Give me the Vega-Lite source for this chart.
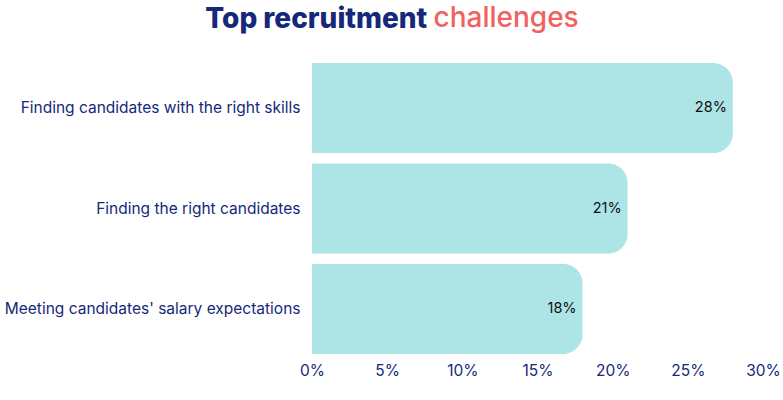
{
  "$schema": "https://vega.github.io/schema/vega-lite/v6.json",
  "autosize": {"type": "fit", "contains": "padding"},
  "width": 783,
  "height": 400,
  "padding": {"left": 4, "right": 2, "top": 4, "bottom": 21},
  "background": "white",
  "title": {
    "text": "Top recruitment",
    "anchor": "start",
    "frame": "bounds",
    "dx": 201,
    "dy": 30,
    "fontSize": 28,
    "fontWeight": 800,
    "font": "Inter",
    "color": "#15287a",
    "offset": 0
  },
  "config": {
    "view": {"stroke": null},
    "font": "Inter"
  },
  "data": {
    "values": [
      {"challenge": "Finding candidates with the right skills", "share": 0.28},
      {"challenge": "Finding the right candidates", "share": 0.21},
      {"challenge": "Meeting candidates' salary expectations", "share": 0.18}
    ]
  },
  "encoding": {
    "y": {
      "field": "challenge",
      "type": "nominal",
      "sort": null,
      "scale": {"paddingInner": 0.1, "paddingOuter": 0.05},
      "axis": {
        "title": "challenges",
        "titleAngle": 0,
        "titleAlign": "left",
        "titleBaseline": "middle",
        "titleX": 121,
        "titleY": -40,
        "titleFontSize": 28,
        "titleFontWeight": 500,
        "titleFont": "Inter",
        "titleColor": "#f0625f",
        "domain": false,
        "ticks": false,
        "labelPadding": 12,
        "labelFontSize": 15.5,
        "labelColor": "#15287a",
        "labelLimit": 400
      }
    },
    "x": {
      "field": "share",
      "type": "quantitative",
      "scale": {"domain": [0, 0.3]},
      "axis": {
        "title": null,
        "values": [0, 0.05, 0.1, 0.15, 0.2, 0.25, 0.3],
        "format": ".0%",
        "grid": false,
        "domain": false,
        "ticks": false,
        "labelPadding": 4,
        "labelFontSize": 15.5,
        "labelColor": "#15287a",
        "labelFlush": false
      }
    }
  },
  "layer": [
    {
      "mark": {"type": "bar", "color": "#ade5e6", "cornerRadiusEnd": 20}
    },
    {
      "mark": {"type": "text", "align": "right", "dx": -6, "fontSize": 14.5, "color": "#111111"},
      "encoding": {
        "text": {"field": "share", "type": "quantitative", "format": ".0%"}
      }
    }
  ]
}
